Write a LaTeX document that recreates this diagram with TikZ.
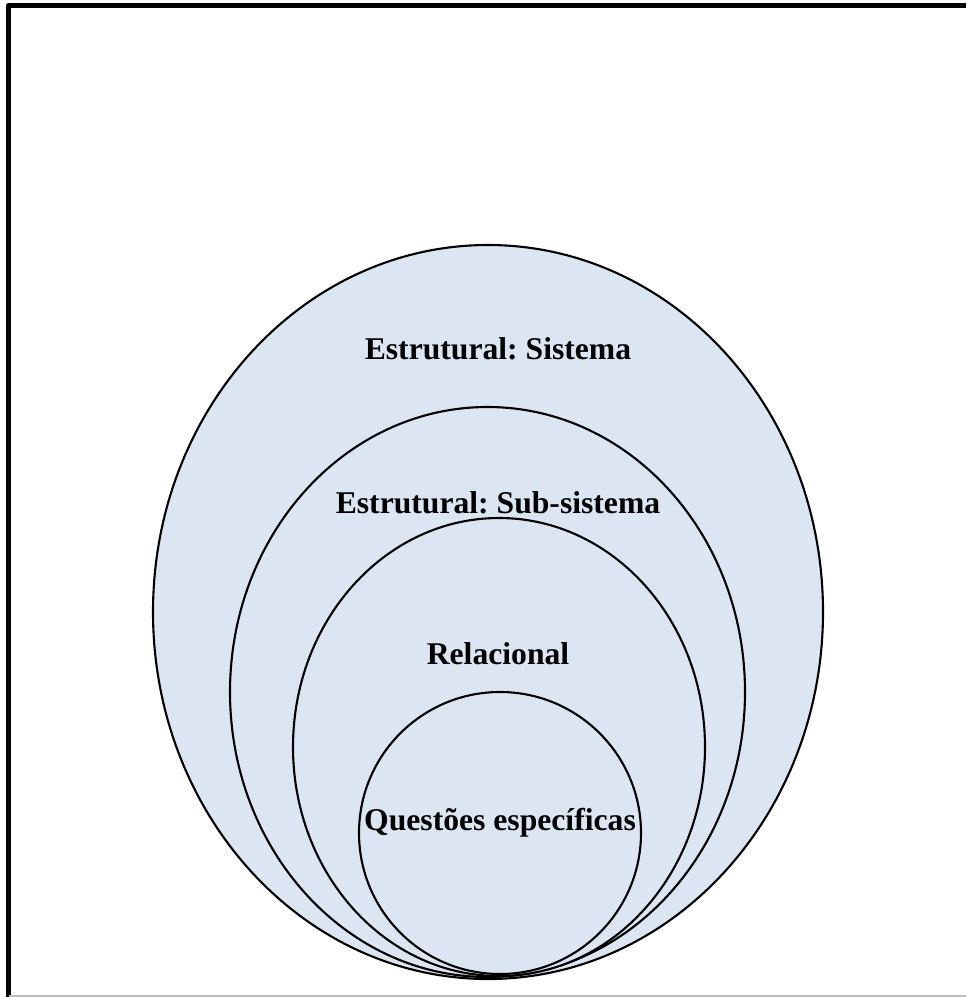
\documentclass[tikz,border=0pt]{standalone}
\usepackage{fontspec}
\setmainfont{Liberation Serif}
\usepackage{tikz}
\frenchspacing

\definecolor{ringfill}{HTML}{DCE6F2}
\tikzset{
  ring/.style={fill=ringfill, draw=black, line width=0.6pt},
  ringlabel/.style={anchor=base, font=\fontsize{9}{11}\selectfont\bfseries, inner sep=0pt},
}

\begin{document}
\begin{tikzpicture}[x=0.01cm, y=-0.01cm]
    \useasboundingbox (0,0) rectangle (966,997);

    % moldura
    \draw[line width=1.4pt, line join=round] (8.5,997) -- (8.5,5.5) -- (966,5.5);
    \draw[gray!50, line width=0.4pt] (8.5,996) -- (966,996);

    % centros das elipses
    \coordinate (C0) at (488, 612);
    \coordinate (C1) at (487.5, 692);
    \coordinate (C2) at (499, 747);
    \coordinate (C3) at (500, 833);

    % elipses (de fora para dentro)
    \draw[ring] (C0) ellipse [x radius=335, y radius=367];
    \draw[ring] (C1) ellipse [x radius=257.5, y radius=285];
    \draw[ring] (C2) ellipse [x radius=206, y radius=229];
    \draw[ring] (C3) ellipse [x radius=141, y radius=141];

    % textos
    \node[ringlabel] (sistema) at (498, 359) {Estrutural: Sistema};
    \node[ringlabel] (subsistema) at (498, 513) {Estrutural: Sub-sistema};
    \node[ringlabel] (relacional) at (498, 664) {Relacional};
    \node[ringlabel] (questoes) at (500, 830) {Questões específicas};
\end{tikzpicture}
\end{document}
